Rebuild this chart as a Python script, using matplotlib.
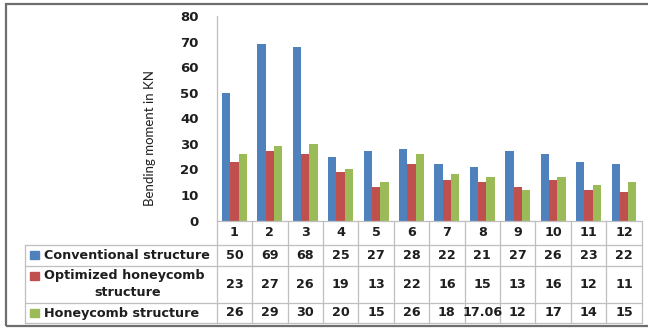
import matplotlib
matplotlib.use("Agg")
import matplotlib.pyplot as plt
import numpy as np
from matplotlib.transforms import blended_transform_factory
from matplotlib.lines import Line2D
from matplotlib.patches import Rectangle

# Data
categories = ["1", "2", "3", "4", "5", "6", "7", "8", "9", "10", "11", "12"]
series_names = ["Conventional structure", "Optimized honeycomb\nstructure", "Honeycomb structure"]
conventional = [50, 69, 68, 25, 27, 28, 22, 21, 27, 26, 23, 22]
optimized = [23, 27, 26, 19, 13, 22, 16, 15, 13, 16, 12, 11]
honeycomb = [26, 29, 30, 20, 15, 26, 18, 17.06, 12, 17, 14, 15]
yticks = [0, 10, 20, 30, 40, 50, 60, 70, 80]
ylabel = "Bending moment in KN"

colors = ["#4F81BD", "#C0504D", "#9BBB59"]
grid_col = "#BFBFBF"
txt_col = "#1E1E1E"

W, H = 648, 329
fig = plt.figure(figsize=(W / 100, H / 100), dpi=100)
fig.patch.set_facecolor("white")

def fy(py):
    return 1 - py / H

def fx(px):
    return px / W

ax_l, ax_r, ax_t, ax_b = 216.7, 641.7, 16.0, 220.5
ax = fig.add_axes([fx(ax_l), fy(ax_b), fx(ax_r - ax_l), (ax_b - ax_t) / H])
ax.set_facecolor("white")

n = len(categories)
x = np.arange(n)
bw = 0.235
series = [conventional, optimized, honeycomb]
for i, (vals, c) in enumerate(zip(series, colors)):
    ax.bar(x + (i - 1) * bw, vals, width=bw, color=c, edgecolor="none", zorder=2)

ax.set_xlim(-0.5, n - 0.5)
ax.set_ylim(0, 80)
ax.set_yticks(yticks)
ax.set_yticklabels([str(t) for t in yticks], fontsize=9.5, fontweight="bold",
                   family="DejaVu Sans", color=txt_col)
ax.tick_params(axis="y", length=0, pad=13)
ax.set_xticks([])
for s in ["top", "right", "bottom"]:
    ax.spines[s].set_visible(False)
ax.spines["left"].set_color(grid_col)
ax.spines["left"].set_linewidth(0.9)

fig.text(fx(150.5), fy(138), ylabel, rotation=90, ha="center", va="center",
         fontsize=9.5, family="Lato", color=txt_col)

# Data table below the plot
tr = blended_transform_factory(ax.transData, fig.transFigure)
row_lines = [220.5, 245, 265.5, 303, 323]
lw = 0.9
# Horizontal lines under the category columns
for py in row_lines:
    fig.add_artist(Line2D([-0.5, n - 0.5], [fy(py), fy(py)], transform=tr,
                          color=grid_col, lw=lw))
# Horizontal lines across the legend column
for py in row_lines[1:]:
    fig.add_artist(Line2D([fx(25), fx(ax_l)], [fy(py), fy(py)], transform=fig.transFigure,
                          color=grid_col, lw=lw))
# Vertical lines
for k in range(n + 1):
    fig.add_artist(Line2D([k - 0.5, k - 0.5], [fy(row_lines[0]), fy(row_lines[-1])],
                          transform=tr, color=grid_col, lw=lw))
fig.add_artist(Line2D([fx(25), fx(25)], [fy(row_lines[1]), fy(row_lines[-1])],
                      transform=fig.transFigure, color=grid_col, lw=lw))

fs = 9.2
for k, cat in enumerate(categories):
    fig.text(k, fy((row_lines[0] + row_lines[1]) / 2), cat, transform=tr,
             ha="center", va="center", fontsize=fs, fontweight="bold", color=txt_col)

for r, (name, vals, c) in enumerate(zip(series_names, series, colors)):
    yc = fy((row_lines[r + 1] + row_lines[r + 2]) / 2)
    for k, v in enumerate(vals):
        fig.text(k, yc, f"{v:g}", transform=tr, ha="center", va="center",
                 fontsize=fs, fontweight="bold", color=txt_col)
    lines = name.split("\n")
    if len(lines) == 1:
        fig.add_artist(Rectangle((fx(30), yc - 4 / H), 9 / W, 8 / H,
                                 transform=fig.transFigure, color=c))
        fig.text(fx(44), yc, name, ha="left", va="center", fontsize=fs,
                 fontweight="bold", color=txt_col)
    else:
        y1 = fy(row_lines[r + 1] + 10.5)
        y2 = fy(row_lines[r + 1] + 27)
        fig.add_artist(Rectangle((fx(30), y1 - 4 / H), 9 / W, 8 / H,
                                 transform=fig.transFigure, color=c))
        fig.text(fx(44), y1, lines[0], ha="left", va="center", fontsize=fs,
                 fontweight="bold", color=txt_col)
        fig.text(fx(128), y2, lines[1], ha="center", va="center", fontsize=fs,
                 fontweight="bold", color=txt_col)

# Outer frame of the chart
fig.add_artist(Rectangle((fx(6), fy(326)), fx(700), (326 - 3.5) / H,
                         transform=fig.transFigure, fill=False,
                         edgecolor="#6E6E6E", lw=1.6))

fig.savefig("out.png", dpi=100, facecolor="white")
